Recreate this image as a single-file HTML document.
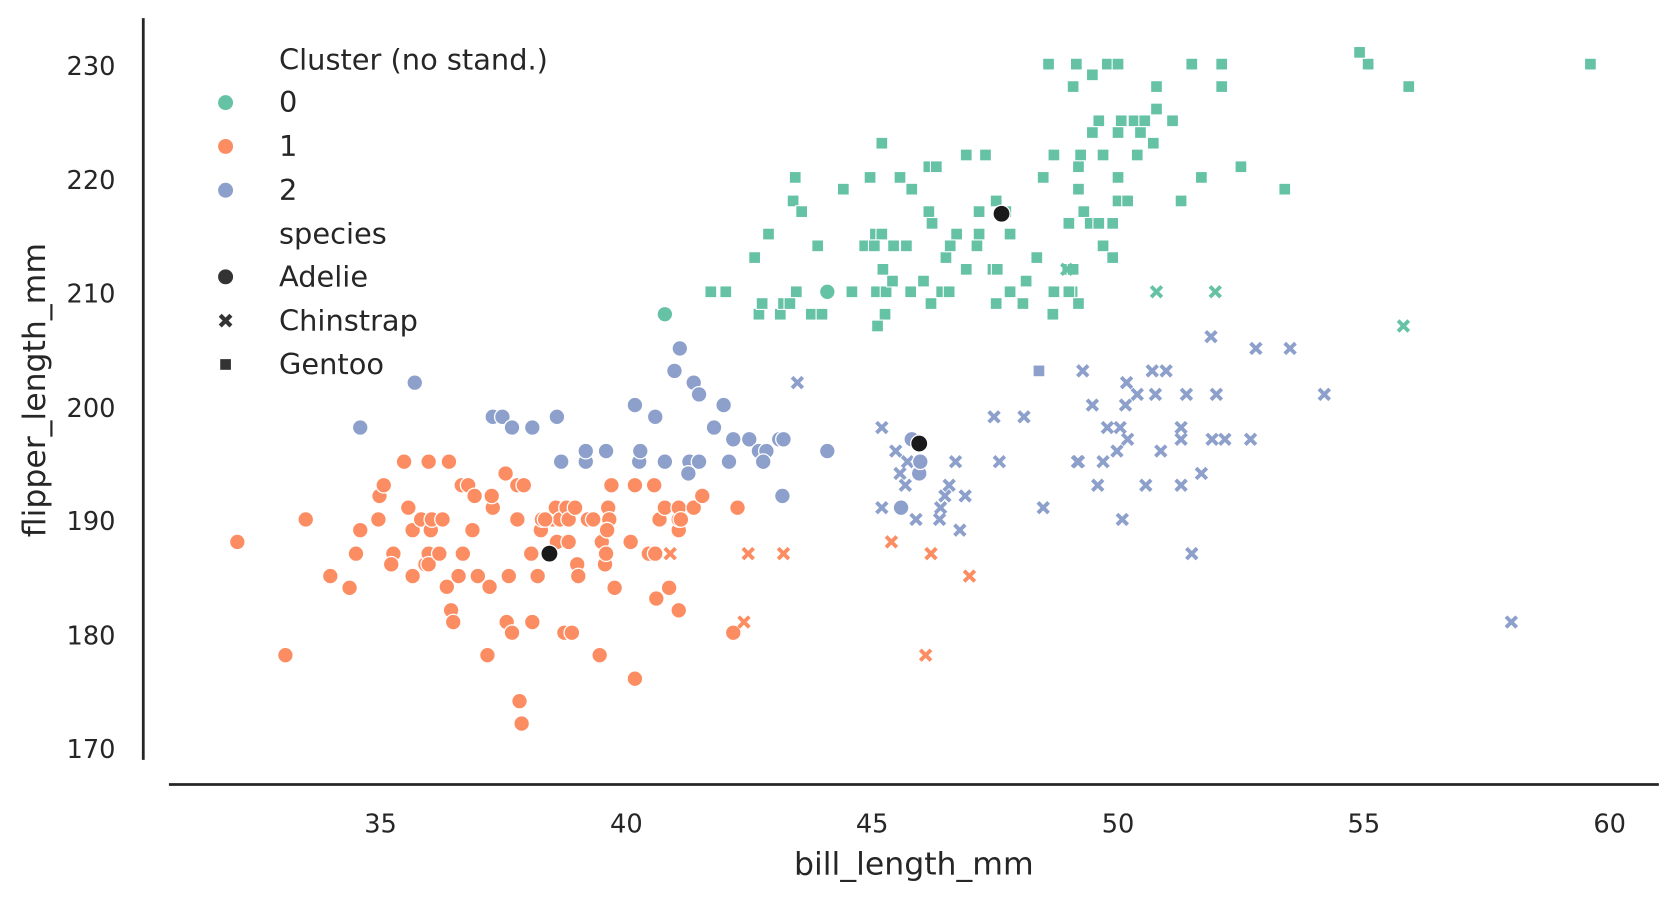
<!DOCTYPE html>
<html><head><meta charset="utf-8"><style>
html,body{margin:0;padding:0;background:#fff;}
svg{display:block;font-family:"DejaVu Sans","Liberation Sans",sans-serif;}
</style></head><body>
<svg id="s" width="1676" height="901" viewBox="0 0 1568 843" xmlns="http://www.w3.org/2000/svg">
<rect width="1568" height="843" fill="#fff"/>
<line x1="134" y1="17" x2="134" y2="711" stroke="#262626" stroke-width="2.6"/>
<line x1="158" y1="734" x2="1552" y2="734" stroke="#262626" stroke-width="2.6"/>
<g fill="#262626" font-size="24" text-anchor="end">
<text x="108" y="70">230</text><text x="108" y="177">220</text><text x="108" y="283">210</text>
<text x="108" y="390">200</text><text x="108" y="496">190</text><text x="108" y="603">180</text><text x="108" y="709">170</text>
</g>
<g fill="#262626" font-size="24" text-anchor="middle">
<text x="356" y="779">35</text><text x="586" y="779">40</text><text x="816" y="779">45</text>
<text x="1046" y="779">50</text><text x="1276" y="779">55</text><text x="1506" y="779">60</text>
<text x="855" y="818" font-size="29.5">bill_length_mm</text>
<text transform="translate(42,365) rotate(-90)" font-size="29.5">flipper_length_mm</text>
</g>
<g id="pts"></g>
<g fill="#262626" font-size="27">
<text x="261" y="65">Cluster (no stand.)</text>
<circle cx="211" cy="96" r="7" fill="#66c2a5"/><text x="261" y="105">0</text>
<circle cx="211" cy="137" r="7" fill="#fc8d62"/><text x="261" y="146">1</text>
<circle cx="211" cy="178" r="7" fill="#8da0cb"/><text x="261" y="187">2</text>
<text x="261" y="228">species</text>
<circle cx="211" cy="259" r="7" fill="#333"/><text x="261" y="268">Adelie</text>
<path d="M206,295 L216,305 M216,295 L206,305" stroke="#333" stroke-width="4"/><text x="261" y="309">Chinstrap</text>
<rect x="206" y="336" width="10" height="10" fill="#333"/><text x="261" y="350">Gentoo</text>
</g>
</svg>
<script>
var G="#66c2a5",O="#fc8d62",B="#8da0cb";
var gs=[[981,60],[1007,60],[1036,60],[1046,60],[1115,60],[1143,60],[1280,60],[1488,60],[1272,49],[1004,81],[1022,70],[1082,81],[1143,81],[1318,81],[1082,102],[1028,113],[1049,113],[1061,113],[1071,113],[1097,113],[1022,124],[1046,124],[1067,124],[1079,134],[825,134],[1064,145],[1032,145],[1011,145],[986,145],[1124,166],[744,166],[814,166],[842,166],[869,156],[876,156],[904,145],[922,145],[1161,156],[1009,156],[976,166],[1046,166],[789,177],[853,177],[1009,177],[1202,177],[742,188],[932,188],[1046,188],[1055,188],[1105,188],[750,198],[916,198],[941,198],[1014,198],[1041,209],[1020,209],[1028,209],[1000,209],[819,219],[825,219],[869,198],[872,209],[895,219],[916,219],[945,219],[706,241],[719,219],[765,230],[809,230],[818,230],[836,230],[848,230],[885,241],[914,230],[929,252],[933,252],[970,241],[1041,241],[999,252],[1004,252],[665,273],[679,273],[745,273],[797,273],[820,273],[829,273],[835,263],[852,273],[864,263],[881,273],[888,273],[945,273],[957,284],[986,273],[1003,273],[710,294],[730,294],[733,284],[739,284],[759,294],[769,294],[828,294],[871,284],[932,284],[960,263],[985,294],[1009,284],[821,305],[904,252],[889,230],[713,284],[1000,273],[1032,230],[826,252]];
var gx=[[1082,273],[1137,273],[1313,305],[998,252]];
var gc=[[774,273],[622,294]];
var bx=[[746,358],[825,400],[1013,347],[1133,315],[1175,326],[1207,326],[1054,358],[1078,347],[1091,347],[1064,369],[1053,379],[1081,369],[1110,369],[1138,369],[930,390],[958,390],[1022,379],[1036,400],[1048,400],[1055,411],[1105,400],[1105,411],[1134,411],[1146,411],[1170,411],[1239,369],[1086,422],[1045,422],[1009,432],[1032,432],[935,432],[894,432],[838,422],[849,432],[842,443],[847,454],[888,454],[884,464],[880,475],[903,464],[825,475],[857,486],[879,486],[898,496],[976,475],[1027,454],[1072,454],[1105,454],[1124,443],[1050,486],[1115,518],[1414,582],[1008,432]];
var bc=[[388,358],[337,400],[461,390],[470,390],[479,400],[498,400],[521,390],[525,432],[548,432],[548,422],[567,422],[613,390],[594,379],[636,326],[631,347],[649,358],[654,369],[677,379],[668,400],[622,432],[598,432],[599,422],[645,432],[654,432],[644,443],[686,411],[682,432],[701,411],[710,422],[717,422],[714,432],[729,411],[733,411],[732,464],[774,422],[853,411],[860,443],[843,475],[861,432]];
var bs=[[972,347]];
var oc=[[222,507],[267,613],[286,486],[309,539],[327,550],[333,518],[337,496],[355,464],[359,454],[354,486],[368,518],[366,528],[378,432],[382,475],[386,496],[386,539],[398,528],[394,486],[401,432],[401,518],[401,528],[403,496],[404,486],[411,518],[414,486],[420,432],[418,549],[422,571],[424,582],[429,539],[432,454],[433,518],[438,454],[442,496],[444,464],[447,539],[456,613],[458,549],[461,475],[460,464],[473,443],[476,539],[474,582],[479,592],[484,454],[484,486],[486,656],[488,677],[490,454],[498,582],[497,518],[503,539],[506,496],[507,486],[517,486],[520,475],[521,507],[524,486],[528,592],[530,475],[532,486],[535,592],[538,475],[540,528],[541,539],[549,486],[550,486],[555,486],[561,613],[563,507],[566,528],[567,518],[569,475],[570,486],[572,454],[575,550],[568,496],[590,507],[594,454],[594,635],[607,518],[612,454],[613,518],[614,560],[617,486],[622,475],[626,550],[635,571],[635,496],[635,486],[635,475],[637,486],[649,475],[657,464],[690,475],[686,592],[532,507],[510,486]];
var ox=[[627,518],[700,518],[733,518],[696,582],[834,507],[871,518],[907,539],[866,613]];
var h="";
function c(a,col,r){a.forEach(function(p){h+='<circle cx="'+p[0]+'" cy="'+p[1]+'" r="'+(r||7.3)+'" fill="'+col+'" stroke="#fff" stroke-width="1.2"/>';});}
function x(a,col){a.forEach(function(p){var X=p[0],Y=p[1];h+='<path d="M'+(X-5)+','+(Y-5)+'L'+(X+5)+','+(Y+5)+'M'+(X+5)+','+(Y-5)+'L'+(X-5)+','+(Y+5)+'" stroke="'+col+'" stroke-width="3.6"/>';});}
function s(a,col){a.forEach(function(p){h+='<rect x="'+(p[0]-5.5)+'" y="'+(p[1]-5.5)+'" width="11" height="11" fill="'+col+'" stroke="#fff" stroke-width="1"/>';});}
s(gs,G);x(gx,G);c(gc,G);x(bx,B);c(bc,B);s(bs,B);c(oc,O);x(ox,O);
c([[514,518],[860,415],[937,200]],"#1a1a1a",8);
document.getElementById("pts").innerHTML=h;
</script>
</body></html>
